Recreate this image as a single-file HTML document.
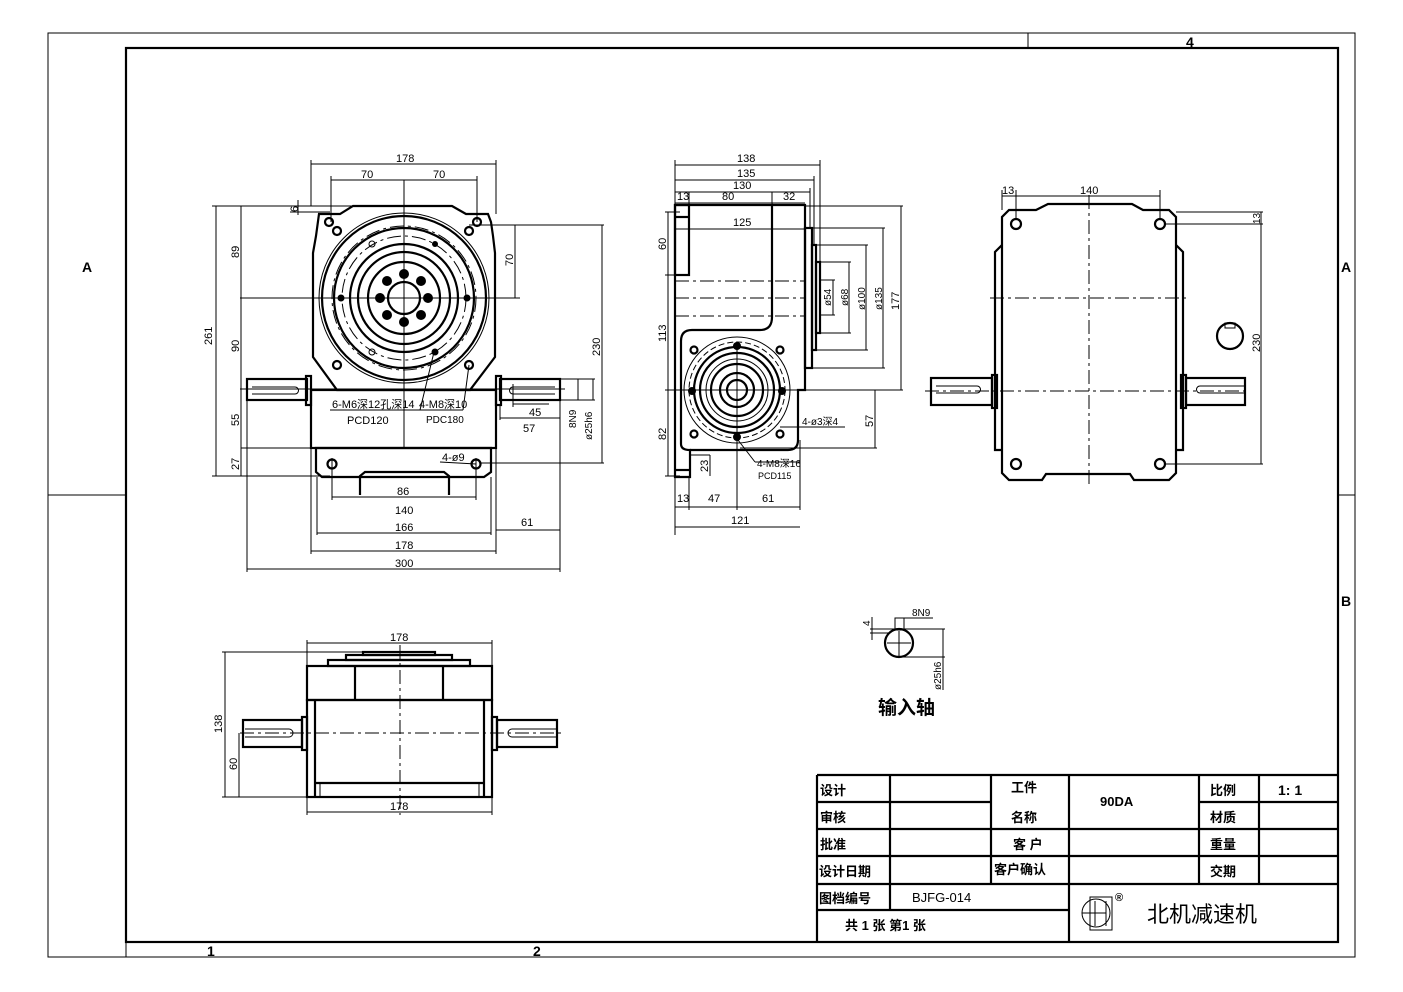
<!DOCTYPE html>
<html><head><meta charset="utf-8"><style>
html,body{margin:0;padding:0;background:#fff;}
svg{display:block;}
text{font-family:"Liberation Sans","Noto Sans CJK SC",sans-serif;fill:#000;}
.t{stroke:#000;stroke-width:2.2;fill:none;}
.n{stroke:#000;stroke-width:1;fill:none;}
.d{stroke:#000;stroke-width:1;fill:none;stroke-dasharray:14 4 3 4;}
.s{font-size:11px;}
.c{font-family:"Liberation Sans","Noto Sans CJK SC",sans-serif;font-size:13px;font-weight:bold;}
</style></head><body>
<svg width="1403" height="992" viewBox="0 0 1403 992" xmlns="http://www.w3.org/2000/svg">
<rect width="1403" height="992" fill="#fff"/>
<!-- frame -->
<rect x="48" y="33" width="1307" height="924" class="n"/>
<rect x="126" y="48" width="1212" height="894" class="t" stroke-width="1.5"/>
<line x1="1028" y1="33" x2="1028" y2="48" class="n"/>
<text x="1186" y="47" font-size="14" font-weight="bold">4</text>
<line x1="48" y1="495" x2="126" y2="495" class="n"/>
<line x1="1338" y1="495" x2="1355" y2="495" class="n"/>
<line x1="126" y1="942" x2="126" y2="957" class="n"/>
<text x="207" y="956" font-size="14" font-weight="bold">1</text>
<text x="533" y="956" font-size="14" font-weight="bold">2</text>
<text x="82" y="272" font-size="14" font-weight="bold">A</text>
<text x="1341" y="272" font-size="14" font-weight="bold">A</text>
<text x="1341" y="606" font-size="14" font-weight="bold">B</text>

<!-- FRONT VIEW -->
<g>
<path d="M353,206 L452,206 L466,214 L488,214 L491,222 L493,236 L495,253 L495,357 L470,390 L337,390 L313,357 L313,253 L316,236 L319,214 L340,214 Z" class="t"/>
<circle cx="404" cy="298" r="85" class="n"/>
<circle cx="404" cy="298" r="82" class="t"/>
<circle cx="404" cy="298" r="72" class="d" stroke-width="0.8"/>
<circle cx="404" cy="298" r="70" class="t"/>
<circle cx="404" cy="298" r="62" class="d" stroke-width="0.8"/>
<circle cx="404" cy="298" r="54" class="t"/>
<circle cx="404" cy="298" r="46" class="t"/>
<circle cx="404" cy="298" r="36" class="t"/>
<circle cx="404" cy="298" r="16" class="t"/>
<g fill="#000">
<circle cx="404" cy="274" r="5"/><circle cx="421" cy="281" r="5"/><circle cx="428" cy="298" r="5"/><circle cx="421" cy="315" r="5"/>
<circle cx="404" cy="322" r="5"/><circle cx="387" cy="315" r="5"/><circle cx="380" cy="298" r="5"/><circle cx="387" cy="281" r="5"/>
<circle cx="341" cy="298" r="3.5"/><circle cx="467" cy="298" r="3.5"/><circle cx="435" cy="352" r="3.5"/><circle cx="435" cy="244" r="3"/>
</g>
<circle cx="372" cy="244" r="3" class="n" stroke-width="1.5"/><circle cx="372" cy="352" r="3" class="n" stroke-width="1.5"/>
<circle cx="337" cy="231" r="4" class="t"/><circle cx="469" cy="231" r="4" class="t"/>
<circle cx="337" cy="365" r="4" class="t"/><circle cx="469" cy="365" r="4" class="t"/>
<circle cx="329" cy="222" r="4" class="t"/><circle cx="477" cy="222" r="4" class="t"/>
<rect x="311" y="390" width="185" height="58" class="t"/>
<path d="M316,448 L491,448 L491,472 L484,477 L322,477 L316,472 Z" class="t"/>
<path d="M360,495 L360,476 L365,472 L444,472 L449,476 L449,495" class="t"/>
<circle cx="332" cy="464" r="4.5" class="t"/><circle cx="476" cy="464" r="4.5" class="t"/>
<rect x="247" y="379" width="60" height="21" class="t"/><rect x="306" y="376" width="5" height="29" class="t"/>
<rect x="500" y="379" width="60" height="21" class="t"/><rect x="496" y="376" width="5" height="29" class="t"/>
<path d="M252,387 L295,387 A3.5,3.5 0 0 1 295,394 L252,394" class="n"/>
<path d="M555,387 L513,387 A3.5,3.5 0 0 0 513,394 L555,394" class="n"/>
<line x1="404" y1="180" x2="404" y2="448" class="n"/>
<line x1="240" y1="298" x2="520" y2="298" class="n"/>
<line x1="240" y1="389" x2="565" y2="389" class="n"/>
<!-- dims -->
<g class="n">
<line x1="311" y1="164" x2="496" y2="164"/><line x1="311" y1="160" x2="311" y2="206"/><line x1="496" y1="160" x2="496" y2="214"/>
<line x1="331" y1="180" x2="477" y2="180"/><line x1="331" y1="176" x2="331" y2="222"/><line x1="477" y1="176" x2="477" y2="222"/>
<line x1="212" y1="206" x2="353" y2="206"/><line x1="212" y1="476" x2="330" y2="476"/><line x1="216" y1="206" x2="216" y2="476"/>
<line x1="241" y1="206" x2="241" y2="476"/><line x1="241" y1="448" x2="316" y2="448"/>
<line x1="290" y1="212" x2="330" y2="212"/><line x1="298" y1="200" x2="298" y2="215"/>
<line x1="469" y1="225" x2="517" y2="225"/><line x1="515" y1="225" x2="515" y2="298"/>
<line x1="480" y1="225" x2="604" y2="225"/><line x1="602" y1="225" x2="602" y2="463"/><line x1="480" y1="463" x2="604" y2="463"/>
<line x1="513" y1="404" x2="549" y2="404"/><line x1="513" y1="384" x2="513" y2="407"/>
<line x1="500" y1="418" x2="560" y2="418"/><line x1="500" y1="405" x2="500" y2="420"/><line x1="560" y1="400" x2="560" y2="438"/>
<line x1="560" y1="379" x2="595" y2="379"/><line x1="560" y1="400" x2="595" y2="400"/><line x1="578" y1="379" x2="578" y2="400"/><line x1="593" y1="379" x2="593" y2="400"/>
<line x1="332" y1="458" x2="332" y2="500"/><line x1="476" y1="458" x2="476" y2="500"/><line x1="332" y1="497" x2="476" y2="497"/>
<line x1="317" y1="477" x2="317" y2="535"/><line x1="491" y1="477" x2="491" y2="535"/><line x1="317" y1="533" x2="491" y2="533"/>
<line x1="311" y1="448" x2="311" y2="554"/><line x1="496" y1="448" x2="496" y2="554"/><line x1="311" y1="551" x2="496" y2="551"/>
<line x1="247" y1="400" x2="247" y2="572"/><line x1="560" y1="438" x2="560" y2="572"/><line x1="247" y1="569" x2="560" y2="569"/>
<line x1="496" y1="530" x2="560" y2="530"/>
<line x1="330" y1="410" x2="420" y2="410"/><line x1="420" y1="410" x2="434" y2="352"/>
<line x1="418" y1="410" x2="463" y2="410"/><line x1="463" y1="410" x2="469" y2="365"/>
<line x1="440" y1="462" x2="476" y2="464"/>
</g>
<g class="s">
<text x="396" y="162">178</text><text x="361" y="178">70</text><text x="433" y="178">70</text>
<text transform="translate(212,345) rotate(-90)">261</text><text transform="translate(239,258) rotate(-90)">89</text>
<text transform="translate(239,352) rotate(-90)">90</text><text transform="translate(239,426) rotate(-90)">55</text>
<text transform="translate(239,470) rotate(-90)">27</text><text transform="translate(298,212) rotate(-90)">6</text>
<text transform="translate(513,266) rotate(-90)">70</text><text transform="translate(600,356) rotate(-90)">230</text>
<text x="529" y="416">45</text><text x="523" y="432">57</text>
<text transform="translate(576,428) rotate(-90)" font-size="10">8N9</text>
<text transform="translate(592,440) rotate(-90)" font-size="10">ø25h6</text>
<text x="332" y="408">6-M6深12孔深14</text><text x="347" y="424">PCD120</text>
<text x="419" y="408">4-M8深10</text><text x="426" y="423" font-size="10">PDC180</text>
<text x="442" y="461">4-ø9</text>
<text x="397" y="495">86</text><text x="395" y="514">140</text><text x="395" y="531">166</text>
<text x="395" y="549">178</text><text x="395" y="567">300</text><text x="521" y="526">61</text>
</g>
</g>

<!-- SIDE VIEW -->
<g>
<path d="M675,205 L772,205 L772,317 Q772,330 760,330 L692,330 Q681,330 681,341 L681,444 Q681,450 690,450 L690,477 L675,477 Z" class="t"/>
<rect x="675" y="205" width="14" height="70" class="t"/>
<line x1="675" y1="217" x2="689" y2="217" class="t"/>
<line x1="675" y1="470" x2="689" y2="470" class="t"/>
<path d="M772,205 L805,205 L805,390 L798,390 L798,440 Q798,450 788,450 L690,450" class="t"/>
<rect x="805" y="228" width="7" height="140" class="t"/>
<rect x="812" y="245" width="4" height="105" class="t"/>
<rect x="816" y="262" width="4" height="71" class="t"/>
<line x1="675" y1="281" x2="805" y2="281" class="d"/><line x1="675" y1="298" x2="805" y2="298" class="d"/><line x1="675" y1="316" x2="805" y2="316" class="d"/>
<circle cx="737" cy="390" r="53" class="n"/>
<circle cx="737" cy="390" r="48" class="n" stroke-dasharray="6 3"/>
<circle cx="737" cy="390" r="43" class="t" stroke-width="3"/>
<circle cx="737" cy="390" r="37" class="t"/>
<circle cx="737" cy="390" r="31" class="n"/>
<circle cx="737" cy="390" r="26" class="t"/>
<circle cx="737" cy="390" r="17" class="t"/>
<circle cx="737" cy="390" r="10" class="t" stroke-width="4"/>
<circle cx="694" cy="350" r="3.5" class="t"/><circle cx="780" cy="350" r="3.5" class="t"/>
<circle cx="694" cy="434" r="3.5" class="t"/><circle cx="780" cy="434" r="3.5" class="t"/>
<g fill="#000"><circle cx="737" cy="346" r="4"/><circle cx="737" cy="437" r="4"/><circle cx="692" cy="391" r="4"/><circle cx="782" cy="391" r="4"/></g>
<line x1="737" y1="345" x2="737" y2="510" class="n"/><line x1="675" y1="390" x2="800" y2="390" class="n"/>
<g class="n">
<line x1="675" y1="165" x2="820" y2="165"/><line x1="675" y1="180" x2="814" y2="180"/><line x1="675" y1="192" x2="810" y2="192"/><line x1="675" y1="203" x2="805" y2="203"/>
<line x1="675" y1="160" x2="675" y2="535"/><line x1="820" y1="160" x2="820" y2="262"/><line x1="814" y1="176" x2="814" y2="245"/><line x1="810" y1="188" x2="810" y2="228"/>
<line x1="689" y1="192" x2="689" y2="205"/><line x1="772" y1="192" x2="772" y2="205"/>
<line x1="675" y1="229" x2="805" y2="229"/>
<line x1="665" y1="212" x2="680" y2="212"/><line x1="665" y1="275" x2="680" y2="275"/><line x1="665" y1="476" x2="680" y2="476"/><line x1="668" y1="212" x2="668" y2="476"/><line x1="665" y1="390" x2="680" y2="390"/>
<line x1="805" y1="206" x2="903" y2="206"/><line x1="901" y1="206" x2="901" y2="390"/><line x1="798" y1="390" x2="903" y2="390"/>
<line x1="812" y1="228" x2="885" y2="228"/><line x1="883" y1="228" x2="883" y2="368"/><line x1="812" y1="368" x2="885" y2="368"/>
<line x1="816" y1="245" x2="868" y2="245"/><line x1="866" y1="245" x2="866" y2="350"/><line x1="816" y1="350" x2="868" y2="350"/>
<line x1="820" y1="262" x2="851" y2="262"/><line x1="849" y1="262" x2="849" y2="333"/><line x1="820" y1="333" x2="851" y2="333"/>
<line x1="820" y1="280" x2="835" y2="280"/><line x1="833" y1="280" x2="833" y2="315"/><line x1="820" y1="315" x2="835" y2="315"/>
<line x1="798" y1="390" x2="877" y2="390"/><line x1="875" y1="390" x2="875" y2="448"/><line x1="740" y1="448" x2="877" y2="448"/>
<line x1="690" y1="455" x2="710" y2="455"/><line x1="710" y1="455" x2="710" y2="476"/>
<line x1="689" y1="477" x2="689" y2="510"/><line x1="800" y1="440" x2="800" y2="510"/>
<line x1="675" y1="507" x2="800" y2="507"/><line x1="675" y1="527" x2="800" y2="527"/>
<line x1="780" y1="427" x2="845" y2="427"/>
<line x1="738" y1="440" x2="755" y2="462"/><line x1="755" y1="462" x2="800" y2="462"/>
</g>
<g class="s">
<text x="737" y="162">138</text><text x="737" y="177">135</text><text x="733" y="189">130</text>
<text x="677" y="200">13</text><text x="722" y="200">80</text><text x="783" y="200">32</text><text x="733" y="226">125</text>
<text transform="translate(666,250) rotate(-90)">60</text><text transform="translate(666,342) rotate(-90)">113</text>
<text transform="translate(666,440) rotate(-90)">82</text><text transform="translate(708,472) rotate(-90)">23</text>
<text transform="translate(831,306) rotate(-90)" font-size="10">ø54</text><text transform="translate(848,306) rotate(-90)" font-size="10">ø68</text>
<text transform="translate(865,310) rotate(-90)" font-size="10">ø100</text><text transform="translate(882,310) rotate(-90)" font-size="10">ø135</text>
<text transform="translate(899,310) rotate(-90)">177</text><text transform="translate(873,427) rotate(-90)">57</text>
<text x="802" y="425" font-size="10">4-ø3深4</text>
<text x="757" y="467" font-size="10">4-M8深16</text><text x="758" y="479" font-size="9">PCD115</text>
<text x="677" y="502">13</text><text x="708" y="502">47</text><text x="762" y="502">61</text><text x="731" y="524">121</text>
</g>
</g>

<!-- RIGHT VIEW -->
<g>
<path d="M1009,210 L1036,210 L1048,204 L1132,204 L1143,210 L1169,210 L1176,217 L1176,473 L1169,480 L1134,480 L1130,474 L1046,474 L1042,480 L1009,480 L1002,473 L1002,217 Z" class="t"/>
<path d="M1002,245 L995,252 L995,450 L1002,450" class="t"/><path d="M1176,245 L1183,252 L1183,450 L1176,450" class="t"/>
<rect x="931" y="378" width="61" height="27" class="t"/><rect x="992" y="375" width="5" height="33" class="t"/>
<rect x="1186" y="378" width="59" height="27" class="t"/><rect x="1181" y="375" width="5" height="33" class="t"/>
<path d="M936,386 L977,386 A3.5,3.5 0 0 1 977,393 L936,393" class="n"/>
<path d="M1245,386 L1200,386 A3.5,3.5 0 0 0 1200,393 L1245,393" class="n"/>
<g class="t" stroke-width="2"><circle cx="1016" cy="224" r="5"/><circle cx="1160" cy="224" r="5"/><circle cx="1016" cy="464" r="5"/><circle cx="1160" cy="464" r="5"/></g>
<circle cx="1230" cy="336" r="13" class="t"/><rect x="1225" y="323" width="10" height="5" class="n"/>
<line x1="1089" y1="195" x2="1089" y2="485" class="d"/><line x1="990" y1="298" x2="1190" y2="298" class="d"/><line x1="925" y1="391" x2="1250" y2="391" class="d"/>
<g class="n">
<line x1="1002" y1="196" x2="1160" y2="196"/><line x1="1002" y1="190" x2="1002" y2="210"/><line x1="1016" y1="190" x2="1016" y2="220"/><line x1="1160" y1="190" x2="1160" y2="220"/>
<line x1="1176" y1="212" x2="1263" y2="212"/><line x1="1165" y1="224" x2="1263" y2="224"/><line x1="1261" y1="212" x2="1261" y2="464"/><line x1="1165" y1="464" x2="1263" y2="464"/>
</g>
<g class="s"><text x="1002" y="194">13</text><text x="1080" y="194">140</text>
<text transform="translate(1260,224) rotate(-90)" font-size="10">13</text><text transform="translate(1260,352) rotate(-90)">230</text></g>
</g>

<!-- BOTTOM VIEW -->
<g>
<rect x="363" y="652" width="72" height="3" class="t"/>
<rect x="346" y="655" width="106" height="5" class="t"/>
<rect x="328" y="660" width="142" height="6" class="t"/>
<rect x="307" y="666" width="185" height="34" class="t"/>
<line x1="355" y1="666" x2="355" y2="700" class="t"/><line x1="443" y1="666" x2="443" y2="700" class="t"/>
<rect x="307" y="700" width="185" height="97" class="t"/>
<line x1="315" y1="700" x2="315" y2="797" class="t"/><line x1="484" y1="700" x2="484" y2="797" class="t"/>
<line x1="315" y1="783" x2="484" y2="783" class="t"/>
<line x1="320" y1="783" x2="320" y2="797" class="n"/><line x1="479" y1="783" x2="479" y2="797" class="n"/>
<rect x="243" y="720" width="59" height="27" class="t"/><rect x="302" y="717" width="5" height="33" class="t"/>
<rect x="497" y="720" width="60" height="27" class="t"/><rect x="492" y="717" width="5" height="33" class="t"/>
<path d="M245,729 L289,729 A4,4 0 0 1 289,737 L245,737" class="n"/>
<path d="M557,729 L512,729 A4,4 0 0 0 512,737 L557,737" class="n"/>
<line x1="400" y1="645" x2="400" y2="815" class="d"/><line x1="240" y1="733" x2="565" y2="733" class="d"/>
<g class="n">
<line x1="307" y1="643" x2="492" y2="643"/><line x1="307" y1="640" x2="307" y2="666"/><line x1="492" y1="640" x2="492" y2="666"/>
<line x1="307" y1="812" x2="492" y2="812"/><line x1="307" y1="797" x2="307" y2="815"/><line x1="492" y1="797" x2="492" y2="815"/>
<line x1="222" y1="652" x2="363" y2="652"/><line x1="222" y1="797" x2="307" y2="797"/><line x1="225" y1="652" x2="225" y2="797"/>
<line x1="239" y1="733" x2="239" y2="797"/>
</g>
<g class="s"><text x="390" y="641">178</text><text x="390" y="810">178</text>
<text transform="translate(222,733) rotate(-90)">138</text><text transform="translate(237,770) rotate(-90)">60</text></g>
</g>

<!-- INPUT SHAFT DETAIL -->
<g>
<circle cx="899" cy="643" r="14" class="t" stroke-width="2.5"/>
<rect x="895" y="618" width="9" height="12" class="n"/>
<line x1="887" y1="643" x2="911" y2="643" class="n"/><line x1="899" y1="631" x2="899" y2="657" class="n"/>
<g class="n">
<line x1="904" y1="618" x2="933" y2="618"/>
<line x1="870" y1="629" x2="945" y2="629"/><line x1="870" y1="633" x2="890" y2="633"/><line x1="872" y1="617" x2="872" y2="640"/>
<line x1="899" y1="657" x2="945" y2="657"/><line x1="943" y1="629" x2="943" y2="690"/>
</g>
<text x="912" y="616" font-size="10">8N9</text>
<text transform="translate(870,626) rotate(-90)" font-size="10">4</text>
<text transform="translate(941,690) rotate(-90)" font-size="10">ø25h6</text>
<text x="878" y="714" font-size="19" font-weight="bold">输入轴</text>
</g>

<!-- TITLE BLOCK -->
<g class="t" stroke-width="2">
<line x1="817" y1="775" x2="1338" y2="775"/>
<line x1="817" y1="775" x2="817" y2="942"/>
<line x1="817" y1="802" x2="991" y2="802"/><line x1="1199" y1="802" x2="1338" y2="802"/>
<line x1="817" y1="829" x2="1338" y2="829"/>
<line x1="817" y1="856" x2="1338" y2="856"/>
<line x1="817" y1="884" x2="1338" y2="884"/>
<line x1="817" y1="910" x2="1069" y2="910"/>
<line x1="890" y1="775" x2="890" y2="910"/>
<line x1="991" y1="775" x2="991" y2="884"/>
<line x1="1069" y1="775" x2="1069" y2="942"/>
<line x1="1199" y1="775" x2="1199" y2="884"/>
<line x1="1259" y1="775" x2="1259" y2="884"/>
</g>
<g class="c">
<text x="820" y="795">设计</text><text x="820" y="822">审核</text><text x="820" y="849">批准</text><text x="819" y="876">设计日期</text><text x="819" y="903">图档编号</text>
<text x="1011" y="792">工件</text><text x="1011" y="822">名称</text><text x="1013" y="849">客 户</text><text x="994" y="874">客户确认</text>
<text x="1100" y="806">90DA</text>
<text x="1210" y="795">比例</text><text x="1210" y="822">材质</text><text x="1210" y="849">重量</text><text x="1210" y="876">交期</text>
<text x="1278" y="795" font-size="14">1: 1</text>
<text x="845" y="930">共 1 张 第1 张</text>
</g>
<text x="912" y="902" font-size="13" font-weight="normal">BJFG-014</text>
<g class="n" stroke-width="1.5">
<circle cx="1096" cy="913" r="14"/><rect x="1090" y="897" width="22" height="33"/>
<line x1="1095" y1="901" x2="1095" y2="926"/><line x1="1106" y1="901" x2="1106" y2="926"/><line x1="1082" y1="913" x2="1106" y2="913"/>
</g>
<text x="1115" y="901" font-size="11" font-weight="bold">®</text>
<text x="1147" y="922" font-size="22" font-family="Liberation Serif,'Noto Serif CJK SC',serif">北机减速机</text>
</svg>
</body></html>
